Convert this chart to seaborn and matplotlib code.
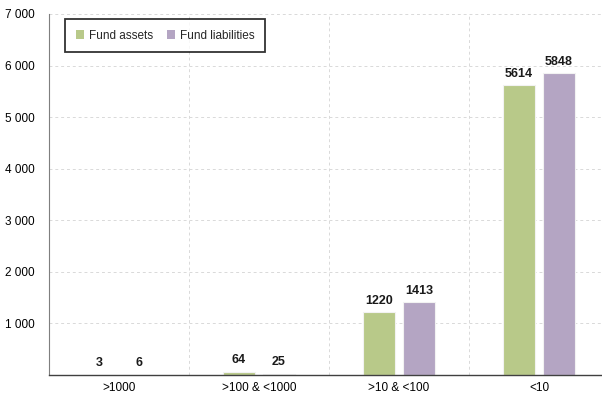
import matplotlib
matplotlib.use("Agg")
import matplotlib.pyplot as plt
import seaborn as sns
import pandas as pd
from matplotlib.ticker import FuncFormatter

categories = [">1000", ">100 & <1000", ">10 & <100", "<10"]
fund_assets = [3, 64, 1220, 5614]
fund_liabilities = [6, 25, 1413, 5848]
series_names = ["Fund assets", "Fund liabilities"]
colors = ["#BDD47E", "#B4A0C8"]

df = pd.DataFrame({
    "category": categories * 2,
    "value": fund_assets + fund_liabilities,
    "series": [series_names[0]] * 4 + [series_names[1]] * 4,
})

sns.set_theme(style="white")
plt.rcParams["font.family"] = ["Liberation Sans Narrow", "Liberation Sans", "DejaVu Sans"]

fig = plt.figure(figsize=(6.02, 3.97), dpi=100)
ax = fig.add_axes([49 / 602, 1 - 375 / 397, 560 / 602, (375 - 14) / 397])

sns.barplot(data=df, x="category", y="value", hue="series", order=categories,
            hue_order=series_names, palette=colors, width=0.57, gap=0.22,
            edgecolor="#F2F2F2", linewidth=0.8, ax=ax, legend=True)

ax.set_xlim(-0.5, 3.5)
ax.set_ylim(0, 7000)
ax.set_yticks([1000, 2000, 3000, 4000, 5000, 6000, 7000])
ax.yaxis.set_major_formatter(FuncFormatter(lambda v, p: f"{int(v):,}".replace(",", " ")))
ax.set_xlabel("")
ax.set_ylabel("")

ax.set_xticks([0.5, 1.5, 2.5], minor=True)
ax.grid(True, which="major", axis="y", color="#D9D9D9", linestyle=(0, (3, 3)), linewidth=0.7)
ax.grid(True, which="minor", axis="x", color="#D9D9D9", linestyle=(0, (3, 3)), linewidth=0.7)
ax.set_axisbelow(True)
ax.tick_params(axis="x", which="both", length=0, labelsize=8.5, pad=5, colors="#000000")
ax.tick_params(axis="y", length=0, labelsize=8.5, pad=10, colors="#000000")

for s in ["top", "right"]:
    ax.spines[s].set_visible(False)
ax.spines["left"].set_color("#7F7F7F")
ax.spines["bottom"].set_color("#404040")
ax.spines["left"].set_linewidth(0.8)
ax.spines["bottom"].set_linewidth(1.0)

for cont in ax.containers:
    ax.bar_label(cont, labels=[f"{int(v)}" for v in cont.datavalues],
                 padding=4, fontsize=9, fontweight="bold", color="#1a1a1a")

leg = ax.legend(loc="upper left", bbox_to_anchor=(16 / 560, 1 - 5 / 361),
                ncol=2, frameon=True, fancybox=False, fontsize=8.5,
                handlelength=0.7, handleheight=0.7, handletextpad=0.4,
                columnspacing=1.2, borderpad=0.9, borderaxespad=0)
leg.get_frame().set_edgecolor("#000000")
leg.get_frame().set_linewidth(1.3)
for h in leg.legend_handles:
    h.set_edgecolor("none")

fig.savefig("out.png", dpi=100)
